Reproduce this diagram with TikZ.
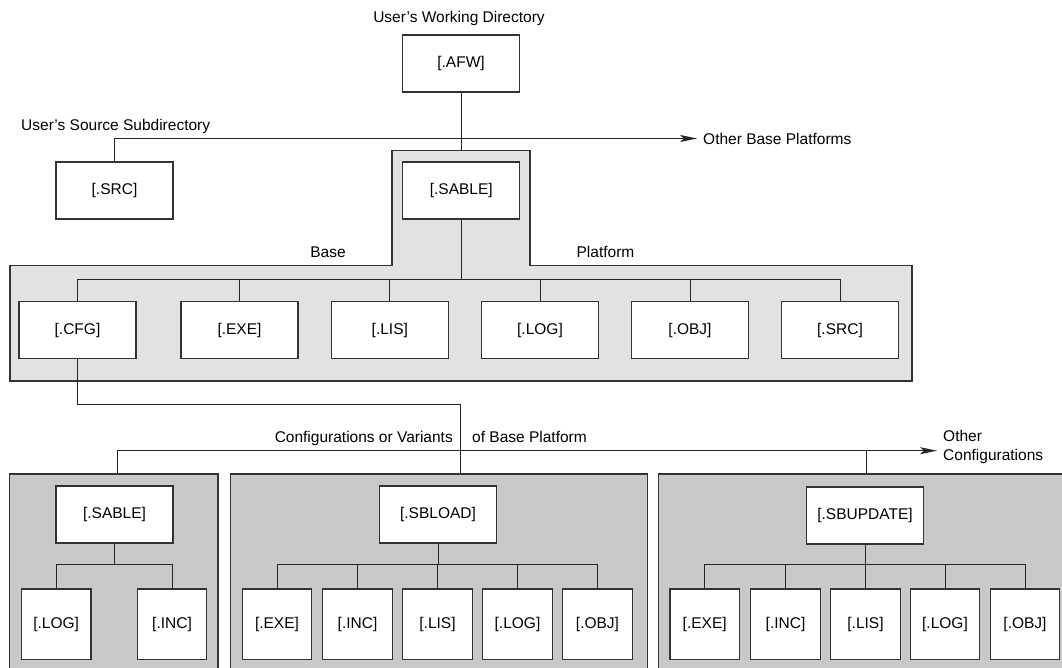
\documentclass[tikz,border=0pt]{standalone}
\usepackage{fontspec}
\setmainfont{Liberation Sans}
\usetikzlibrary{arrows.meta}
\definecolor{lightgr}{HTML}{E1E2E4}
\definecolor{darkgr}{HTML}{C8C9CB}
\definecolor{edgec}{HTML}{333333}
\begin{document}
\begin{tikzpicture}[x=1pt,y=-1pt,
  font=\fontsize{15.5}{19.7}\selectfont,
  box/.style={draw=edgec, fill=white, line width=1.2pt, minimum width=117pt, minimum height=57pt, inner sep=0pt},
  sbox/.style={box, minimum width=69.5pt, minimum height=70.3pt},
  lbl/.style={inner sep=0pt, text height=11.1pt, text depth=0pt},
  conn/.style={draw=black!85, line width=1pt},
  arr/.style={conn, -{Stealth[length=17pt,width=7pt,inset=4pt]}},
  panel/.style={draw=edgec, line width=1.2pt}]
\useasboundingbox (0,0) rectangle (1062,668);
\clip (0,0) rectangle (1062,668);

% shaded regions
\path[panel, fill=lightgr] (10,265.7) -- (392,265.7) -- (392,150.7) -- (530,150.7) -- (530,265.7) -- (912,265.7) -- (912,381) -- (10,381) -- cycle;
\path[panel, fill=darkgr] (9.6,474) rectangle (218,700);
\path[panel, fill=darkgr] (230.4,474) rectangle (647.3,700);
\path[panel, fill=darkgr] (658.3,474) rectangle (1080,700);

% labels
\node[lbl] (tWork) at (459,17) {User's Working Directory};
\node[lbl, anchor=west] (tSrc) at (21,125) {User's Source Subdirectory};
\node[lbl, anchor=west] (tOBP) at (703,138.5) {Other Base Platforms};
\node[lbl] (tBase) at (328,252) {Base};
\node[lbl] (tPlat) at (605.5,252) {Platform};
\node[lbl, anchor=east] (tCfg) at (453,437) {Configurations or Variants};
\node[lbl, anchor=west] (tOf) at (472,437) {of Base Platform};
\node[inner sep=0pt, anchor=west, align=left] (tOC) at (943,447) {Other\\Configurations};

% top boxes
\node[box] (afw) at (461,63.5) {[.AFW]};
\node[box] (srcu) at (114.5,190.5) {[.SRC]};
\node[box] (sable) at (461.3,190.5) {[.SABLE]};

% base platform children
\node[box] (cfg) at (77.5,330.3) {[.CFG]};
\node[box] (exe) at (239.5,330.3) {[.EXE]};
\node[box] (lis) at (389.8,330.3) {[.LIS]};
\node[box] (log) at (540,330.3) {[.LOG]};
\node[box] (obj) at (690,330.3) {[.OBJ]};
\node[box] (srcb) at (840,330.3) {[.SRC]};

% configuration panels
\node[box] (sable1) at (114.5,514.5) {[.SABLE]};
\node[sbox] (log1) at (56.2,624.2) {[.LOG]};
\node[sbox] (inc1) at (172,624.2) {[.INC]};

\node[box] (sbload) at (438,514.5) {[.SBLOAD]};
\node[sbox] (exe2) at (277,624.2) {[.EXE]};
\node[sbox] (inc2) at (357.5,624.2) {[.INC]};
\node[sbox] (lis2) at (437.5,624.2) {[.LIS]};
\node[sbox] (log2) at (517.5,624.2) {[.LOG]};
\node[sbox] (obj2) at (597.5,624.2) {[.OBJ]};

\node[box] (sbup) at (865,515.5) {[.SBUPDATE]};
\node[sbox] (exe3) at (704.7,624.2) {[.EXE]};
\node[sbox] (inc3) at (785.5,624.2) {[.INC]};
\node[sbox] (lis3) at (865.5,624.2) {[.LIS]};
\node[sbox] (log3) at (945,624.2) {[.LOG]};
\node[sbox] (obj3) at (1025,624.2) {[.OBJ]};

% coordinates
\coordinate (tabtop) at (461,150.7);
\coordinate (obpEnd) at (697,138.5);
\coordinate (hb) at (0,279);
\coordinate (cturn) at (460.7,404);
\coordinate (p2t) at (460.7,474);
\coordinate (p1t) at (117,474);
\coordinate (p3t) at (866.7,474);
\coordinate (ocEnd) at (937,450.7);
\coordinate (hc) at (0,564);

% connectors top
\draw[conn] (afw.south) -- (tabtop);
\draw[arr] (srcu.north) |- (obpEnd);
\draw[conn] (sable.south) -- (sable.south |- hb);
\draw[conn] (cfg.north) |- (hb -| srcb.north) -- (srcb.north);
\foreach \n in {exe,lis,log,obj} \draw[conn] (\n.north) -- (\n.north |- hb);

% config connectors
\draw[conn] (cfg.south) |- (cturn) -- (p2t);
\draw[arr] (p1t) |- (ocEnd);
\draw[conn] (p3t) -- (p3t |- ocEnd);

% panel 1
\draw[conn] (sable1.south) -- (sable1.south |- hc);
\draw[conn] (log1.north) |- (hc -| inc1.north) -- (inc1.north);

% panel 2
\draw[conn] (sbload.south) -- (sbload.south |- hc);
\draw[conn] (exe2.north) |- (hc -| obj2.north) -- (obj2.north);
\foreach \n in {inc2,lis2,log2} \draw[conn] (\n.north) -- (\n.north |- hc);

% panel 3
\draw[conn] (sbup.south) -- (sbup.south |- hc);
\draw[conn] (exe3.north) |- (hc -| obj3.north) -- (obj3.north);
\foreach \n in {inc3,lis3,log3} \draw[conn] (\n.north) -- (\n.north |- hc);
\end{tikzpicture}
\end{document}
